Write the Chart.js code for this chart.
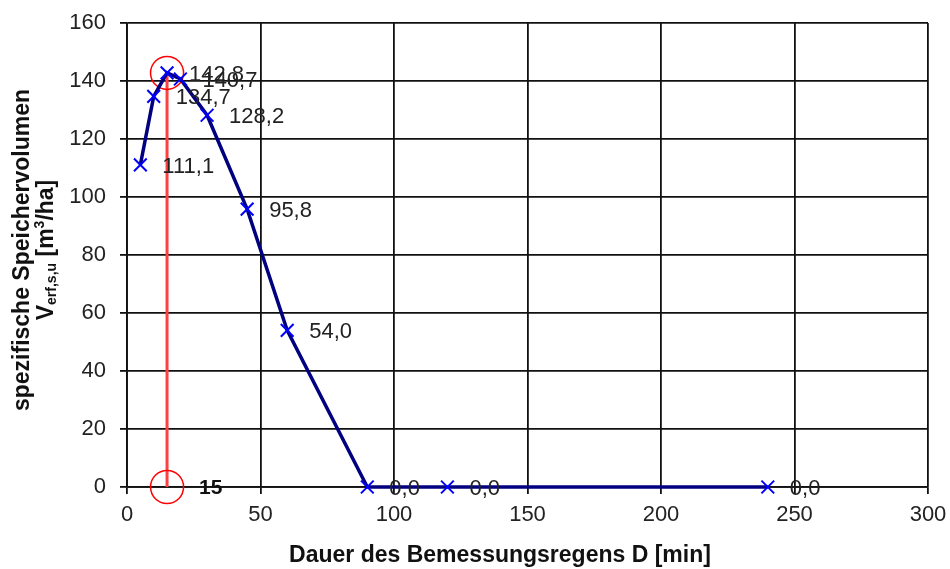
<!DOCTYPE html>
<html>
<head>
<meta charset="utf-8">
<title>Speichervolumen</title>
<script src="https://cdn.jsdelivr.net/npm/chart.js@4"></script>
<style>
  body { margin: 0; background: #fff; }
  #wrap { width: 950px; height: 569px; }
</style>
</head>
<body>
<div id="wrap"><canvas id="myChart" width="950" height="569"></canvas></div>
<script>
// Daten aus dem Diagramm
const dauer = [5, 10, 15, 20, 30, 45, 60, 90, 120, 240];
const volumen = [111.1, 134.7, 142.8, 140.7, 128.2, 95.8, 54.0, 0.0, 0.0, 0.0];
const optDauer = 15;
const optVolumen = 142.8;
const xTicks = [0, 50, 100, 150, 200, 250, 300];
const yTicks = [0, 20, 40, 60, 80, 100, 120, 140, 160];

const xTitle = 'Dauer des Bemessungsregens D [min]';
const yTitle1 = 'spezifische Speichervolumen';

const FONT = "'Liberation Sans', Arial, sans-serif";
Chart.defaults.font.family = FONT;
Chart.defaults.color = '#222';

let ctx = document.getElementById('myChart').getContext('2d');

function fmt(v) { return v.toFixed(1).replace('.', ','); }

// Beschriftungen, Achsentitel
const labelPlugin = {
  id: 'labels',
  afterDatasetsDraw(chart) {
    const c = chart.ctx;
    const meta = chart.getDatasetMeta(0);
    c.save();
    c.fillStyle = '#222';
    c.font = '22px ' + FONT;
    c.textAlign = 'left';
    c.textBaseline = 'middle';
    meta.data.forEach(function(p, i) {
      c.fillText(fmt(volumen[i]), p.x + 22, p.y + 2);
    });
    const red = chart.getDatasetMeta(1).data[0];
    c.font = 'bold 21px ' + FONT;
    c.fillStyle = '#111';
    c.fillText(String(optDauer), red.x + 32, red.y + 1);
    c.restore();
  },
  afterDraw(chart) {
    const c = chart.ctx;
    c.save();
    c.fillStyle = '#111';
    c.textBaseline = 'middle';
    // x title
    c.font = 'bold 23px ' + FONT;
    c.textAlign = 'center';
    c.fillText(xTitle, 500, 556);
    // y title
    c.translate(23, 250);
    c.rotate(-Math.PI / 2);
    c.fillText(yTitle1, 0, 0);
    c.translate(0, 24);
    const parts = [
      ['V', 'bold 23px ', 0],
      ['erf,s,u', 'bold 14px ', 5],
      [' [m', 'bold 23px ', 0],
      ['3', 'bold 14px ', -7],
      ['/ha]', 'bold 23px ', 0]
    ];
    let total = 0;
    parts.forEach(function(p) { c.font = p[1] + FONT; total += c.measureText(p[0]).width; });
    let px = -total / 2;
    c.textAlign = 'left';
    parts.forEach(function(p) {
      c.font = p[1] + FONT;
      c.fillText(p[0], px, p[2]);
      px += c.measureText(p[0]).width;
    });
    c.restore();
  }
};

function noPad(s) {
  s.paddingTop = 0; s.paddingBottom = 0; s.paddingLeft = 0; s.paddingRight = 0;
}

myChart = new Chart(ctx, {
  type: 'scatter',
  data: {
    datasets: [{
      label: 'Speichervolumen',
      data: dauer.map(function(d, i) { return {x: d, y: volumen[i]}; }),
      showLine: true,
      borderColor: '#000080',
      borderWidth: 3.5,
      pointStyle: 'crossRot',
      pointRadius: 9,
      pointBorderColor: '#0000ff',
      pointBorderWidth: 2,
      clip: false
    }, {
      label: 'Optimum',
      data: [{x: optDauer, y: 0}, {x: optDauer, y: optVolumen}],
      showLine: true,
      borderColor: '#ff4040',
      borderWidth: 3,
      pointStyle: 'circle',
      pointRadius: 16.5,
      pointBorderColor: '#ff0000',
      pointBackgroundColor: 'rgba(0,0,0,0)',
      pointBorderWidth: 1.5,
      clip: false
    }]
  },
  options: {
    responsive: false,
    animation: false,
    layout: { padding: { left: 0, right: 22, top: 23, bottom: 0 } },
    plugins: {
      legend: { display: false },
      tooltip: { enabled: false }
    },
    scales: {
      x: {
        type: 'linear',
        min: 0, max: 300,
        afterBuildTicks: function(s) { s.ticks = xTicks.map(function(v) { return {value: v}; }); },
        afterFit: function(s) { s.height = 82; noPad(s); },
        grid: { color: '#111', lineWidth: 1.8, tickLength: 7 },
        border: { color: '#111', width: 1.8 },
        ticks: { font: { size: 22 }, padding: 8, maxRotation: 0, color: '#222' }
      },
      y: {
        type: 'linear',
        min: 0, max: 160,
        afterBuildTicks: function(s) { s.ticks = yTicks.map(function(v) { return {value: v}; }); },
        afterFit: function(s) { s.width = 127; noPad(s); },
        grid: { color: '#111', lineWidth: 1.8, tickLength: 7 },
        border: { color: '#111', width: 1.8 },
        ticks: { font: { size: 22 }, padding: 14, color: '#222' }
      }
    }
  },
  plugins: [labelPlugin]
});
</script>
</body>
</html>
